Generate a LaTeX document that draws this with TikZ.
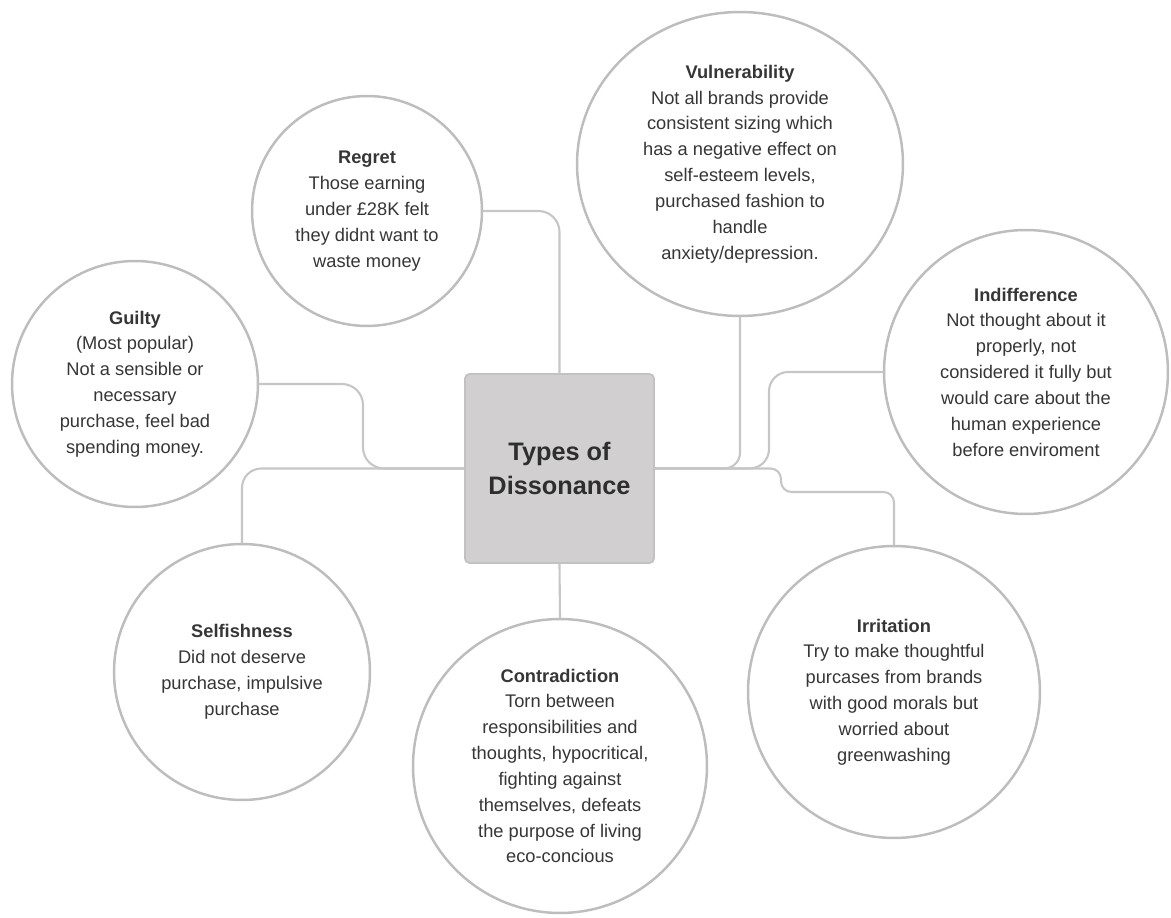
\documentclass[tikz,border=0pt]{standalone}
\usepackage{fontspec}
\setmainfont{Liberation Sans}
\usetikzlibrary{shapes.geometric}
\definecolor{ringgray}{HTML}{BDBDBD}
\definecolor{linkgray}{HTML}{C6C6C6}
\definecolor{hubfill}{HTML}{D1CFD0}
\definecolor{hubline}{HTML}{C2C2C2}
\definecolor{inkgray}{HTML}{363636}
\begin{document}
\begin{tikzpicture}[x=0.02cm,y=-0.02cm,line join=round,line cap=round,
	bubble/.style={circle,draw=ringgray,line width=1.4pt,fill=white,inner sep=0pt,
		align=center,text=inkgray,font=\fontsize{10.4}{14.7}\selectfont},
	hub/.style={rectangle,rounded corners=2.5pt,draw=hubline,line width=1pt,fill=hubfill,
		minimum width=3.78cm,minimum height=3.78cm,align=center,text=black!82,
		font=\fontsize{14.4}{19.3}\selectfont\bfseries},
	link/.style={draw=linkgray,line width=1.2pt,rounded corners=9pt}]
	\useasboundingbox (0,0) rectangle (1171,918);
	% centre
	\node[hub] (types) at (559.5,468.5) {Types of\\Dissonance};
	% topics
	\node[bubble,minimum size=4.6cm] (regret) at (367,211)
	{\textbf{Regret}\\Those earning\\under £28K felt\\they didnt want to\\waste money};
	\node[bubble,ellipse,minimum width=6.52cm,minimum height=6.08cm] (vuln) at (740,164)
	{\textbf{Vulnerability}\\Not all brands provide\\consistent sizing which\\has a negative effect on\\self-esteem levels,\\purchased fashion to\\handle\\anxiety/depression.};
	\node[bubble,minimum size=4.92cm] (guilty) at (135,384)
	{\textbf{Guilty}\\(Most popular)\\Not a sensible or\\necessary\\purchase, feel bad\\spending money.};
	\node[bubble,minimum size=5.68cm] (indiff) at (1026,372)
	{\textbf{Indifference}\\Not thought about it\\properly, not\\considered it fully but\\would care about the\\human experience\\before enviroment};
	\node[bubble,minimum size=5.12cm] (selfish) at (242,672)
	{\textbf{Selfishness}\\Did not deserve\\purchase, impulsive\\purchase};
	\node[bubble,minimum size=5.88cm] (contra) at (560,766)
	{\textbf{Contradiction}\\Torn between\\responsibilities and\\thoughts, hypocritical,\\fighting against\\themselves, defeats\\the purpose of living\\eco-concious};
	\node[bubble,minimum size=5.84cm] (irrit) at (894,692)
	{\textbf{Irritation}\\Try to make thoughtful\\purcases from brands\\with good morals but\\worried about\\greenwashing};
	% bends
	\coordinate (jGuilty) at (363,468.5);
	\coordinate (jIndiff) at (769,468.5);
	\coordinate (jIrrit) at (781,492);
	% links
	\draw[link,rounded corners=12pt] (regret.east) -| (types.north);
	\draw[link] (vuln.south) |- (types.east);
	\draw[link,rounded corners=11pt] (indiff.west) -| (jIndiff) -- (types.east);
	\draw[link,rounded corners=6pt] (types.east) -| (jIrrit) -| (irrit.north);
	\draw[link,rounded corners=12pt] (guilty.east) -| (jGuilty) -- (types.west);
	\draw[link,rounded corners=11pt] (types.west) -| (selfish.north);
	\draw[link] (types.south) -- (contra.north);
\end{tikzpicture}
\end{document}
